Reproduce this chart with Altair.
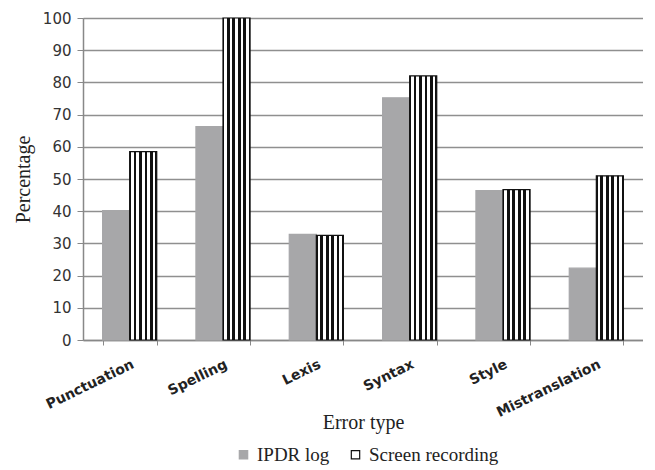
import altair as alt
import pandas as pd

categories = ["Punctuation", "Spelling", "Lexis", "Syntax", "Style", "Mistranslation"]
series = ["IPDR log", "Screen recording"]
ipdr = [40.2, 66.3, 32.8, 75.2, 46.4, 22.3]
screen = [58.5, 100, 32.5, 82.0, 46.7, 51.0]

rows = []
for c, a, b in zip(categories, ipdr, screen):
    rows.append({"cat": c, "series": series[0], "value": a})
    rows.append({"cat": c, "series": series[1], "value": b})
df = pd.DataFrame(rows)

# vertical stripe pattern as a hard-stop linear gradient
stops = []
n = 5
w = 0.05
for k in range(n + 1):
    c = k / n
    lo, hi = max(0.0, c - w), min(1.0, c + w)
    stops.append({"offset": lo, "color": "#111111"})
    stops.append({"offset": hi, "color": "#111111"})
    if k < n:
        stops.append({"offset": hi, "color": "#ffffff"})
        stops.append({"offset": (k + 1) / n - w, "color": "#ffffff"})
grad = {"gradient": "linear", "x1": 0, "y1": 0, "x2": 1, "y2": 0, "stops": stops}

legend = alt.Legend(
    title=None, orient="none", direction="horizontal", legendX=151, legendY=427,
    symbolType="square", symbolSize=70, symbolStrokeWidth=1.2,
    labelFont="Liberation Serif", labelFontSize=19, labelColor="#222",
    columnPadding=16,
)

chart = alt.Chart(df).mark_bar(strokeWidth=1.2).encode(
    x=alt.X("cat:N", sort=categories, title="Error type",
            scale=alt.Scale(paddingInner=0.42, paddingOuter=0.21),
            axis=alt.Axis(labelAngle=334, labelAlign="right", labelBaseline="top",
                          labelFont="DejaVu Sans", labelFontWeight="bold", labelFontSize=14,
                          labelColor="#222", labelPadding=12, tickBand="extent",
                          tickColor="#888", tickSize=5, domainColor="#888", domainWidth=1.5,
                          titleFont="Liberation Serif", titleFontSize=20, titleFontWeight="normal",
                          titleColor="#222", titleY=72, titleBaseline="top", grid=False)),
    xOffset=alt.XOffset("series:N", sort=series),
    y=alt.Y("value:Q", title="Percentage",
            scale=alt.Scale(domain=[0, 100], nice=False),
            axis=alt.Axis(values=list(range(0, 101, 10)), labelFont="DejaVu Sans", labelFontSize=15,
                          labelColor="#333", labelPadding=6, tickColor="#888", tickSize=6,
                          domainColor="#888", domainWidth=1.5,
                          gridColor="#8f8f8f", gridWidth=1.4,
                          titleFont="Liberation Serif", titleFontSize=20, titleFontWeight="normal",
                          titleColor="#222", titlePadding=9)),
    fill=alt.condition(
        alt.datum.series == "Screen recording",
        alt.value(grad),
        alt.Fill("series:N", sort=series,
                 scale=alt.Scale(domain=series, range=["#a7a7a9", "#ffffff"]), legend=legend),
    ),
    stroke=alt.Stroke("series:N", sort=series,
                      scale=alt.Scale(domain=series, range=["#a7a7a9", "#111111"]), legend=legend),
).properties(
    width=560, height=322, padding={"top": 3, "left": 5, "right": 0, "bottom": 0}
).configure_view(stroke=None).configure(background="white")

chart.save("out.html", embed_options={"renderer": "svg", "actions": False})
